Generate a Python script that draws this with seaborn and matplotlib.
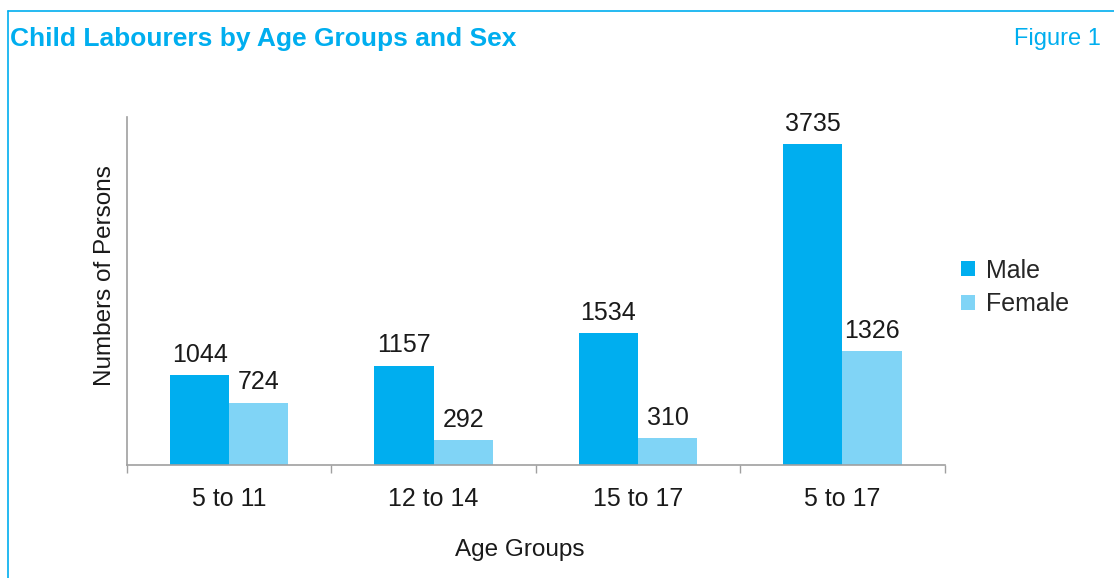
import matplotlib
matplotlib.use("Agg")
import matplotlib.pyplot as plt
import seaborn as sns
import pandas as pd
from matplotlib.lines import Line2D

# --- data ---
age_groups = ["5 to 11", "12 to 14", "15 to 17", "5 to 17"]
male = [1044, 1157, 1534, 3735]
female = [724, 292, 310, 1326]
sexes = ["Male", "Female"]

CYAN = "#00AEEF"
LIGHT = "#80D4F6"
TXT = "#1a1a1a"

df = pd.DataFrame({
    "Age Groups": age_groups * 2,
    "Sex": [sexes[0]] * len(male) + [sexes[1]] * len(female),
    "Persons": male + female,
})

sns.set_style("white")
plt.rcParams["font.family"] = ["Liberation Sans", "DejaVu Sans"]

fig = plt.figure(figsize=(11.14, 5.78), dpi=100)
ax = fig.add_axes([0.114, 0.1955, 0.734, 0.602])

sns.barplot(data=df, x="Age Groups", y="Persons", hue="Sex",
            palette=[CYAN, LIGHT], width=0.58, saturation=1,
            linewidth=0, ax=ax, legend=True)

for cont in ax.containers:
    ax.bar_label(cont, padding=6, fontsize=18, color=TXT)

ax.set_xlim(-0.5, len(age_groups) - 0.5)
ax.set_ylim(0, 4050)
ax.set_yticks([])
ax.set_xticks(range(len(age_groups)))
ax.set_xticklabels(age_groups, fontsize=18, color=TXT)
ax.set_xticks([i - 0.5 for i in range(len(age_groups) + 1)], minor=True)
ax.tick_params(axis="x", which="major", length=0, pad=16)
ax.tick_params(axis="x", which="minor", length=6, width=1, color="#A0A0A0",
               direction="out", bottom=True)

for side in ["top", "right"]:
    ax.spines[side].set_visible(False)
for side in ["left", "bottom"]:
    ax.spines[side].set_color("#A0A0A0")
    ax.spines[side].set_linewidth(1.2)

ax.set_xlabel("Age Groups", fontsize=17.5, color=TXT)
ax.xaxis.set_label_coords(0.48, -0.214)
ax.set_ylabel("Numbers of Persons", fontsize=17.5, color=TXT)
ax.yaxis.set_label_coords(-0.013, 0.543)

handles, labels = ax.get_legend_handles_labels()
ax.legend(handles, labels, loc="center left", bbox_to_anchor=(0.993, 0.51),
          frameon=False, fontsize=18, handlelength=0.55, handleheight=0.55,
          handletextpad=0.45, labelspacing=0.38)

# title and figure tag
fig.text(0.009, 0.933, "Child Labourers by Age Groups and Sex", color=CYAN,
         fontsize=19, fontweight="bold", va="center", ha="left")
fig.text(0.988, 0.933, "Figure 1", color=CYAN, fontsize=17,
         va="center", ha="right")

# cyan frame (top + left)
fig.add_artist(Line2D([0.0075, 0.0075], [0.0, 0.981], color=CYAN, lw=1.2,
                      transform=fig.transFigure))
fig.add_artist(Line2D([0.0075, 1.0], [0.981, 0.981], color=CYAN, lw=1.2,
                      transform=fig.transFigure))

fig.savefig("out.png", dpi=100)
